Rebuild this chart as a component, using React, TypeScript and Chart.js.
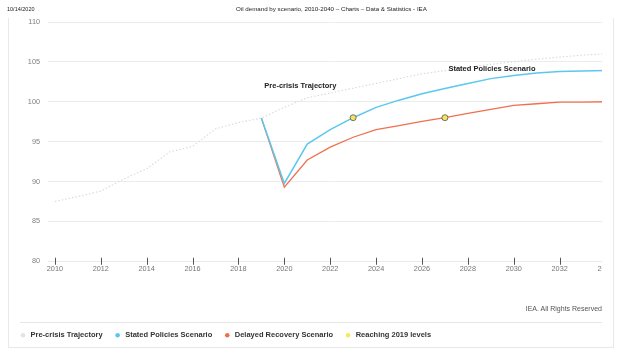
import React, { useEffect, useRef } from 'react';
import { Chart, registerables } from 'chart.js';

Chart.register(...registerables);

const years = [2010, 2011, 2012, 2013, 2014, 2015, 2016, 2017, 2018, 2019, 2020, 2021, 2022, 2023, 2024, 2025, 2026, 2027, 2028, 2029, 2030, 2031, 2032, 2033, 2034];
const preCrisis = [87.5, 88.1, 88.8, 90.3, 91.6, 93.7, 94.4, 96.6, 97.4, 97.95, 99.3, 100.5, 101.1, 101.7, 102.3, 102.9, 103.5, 103.9, 104.3, 104.7, 105.0, 105.35, 105.6, 105.85, 106.0];
const statedPolicies = [null, null, null, null, null, null, null, null, null, 97.95, 89.75, 94.7, 96.5, 98.0, 99.3, 100.2, 101.0, 101.65, 102.3, 102.9, 103.3, 103.6, 103.8, 103.87, 103.92];
const delayedRecovery = [null, null, null, null, null, null, null, null, null, 97.95, 89.3, 92.7, 94.3, 95.55, 96.5, 97.0, 97.55, 98.0, 98.55, 99.05, 99.55, 99.75, 99.95, 99.95, 100.0];
const reachingYears = [2023, 2027];
const reachingValues = [98.0, 98.0];

const seriesNames = ['Pre-crisis Trajectory', 'Stated Policies Scenario', 'Delayed Recovery Scenario', 'Reaching 2019 levels'];
const lineColors = ['#d9d9d9', '#5ac8ee', '#f0704e', '#f2e463'];
const legendColors = ['#e3e3e3', '#5ac8ee', '#f0704e', '#f7e85c'];

const xTickYears = [2010, 2012, 2014, 2016, 2018, 2020, 2022, 2024, 2026, 2028, 2030, 2032, 2034];
const yMin = 80;
const yMax = 110;
const yStep = 5;

const annotations = [
  { text: 'Pre-crisis Trajectory', year: 2020.7, value: 101.95 },
  { text: 'Stated Policies Scenario', year: 2029.05, value: 104.1 },
];

const FONT = "'Liberation Sans', Arial, sans-serif";

const toPoints = (vals: (number | null)[]) =>
  years.map((y, i) => ({ x: y, y: vals[i] })).filter((p) => p.y !== null);

const tickMarks = {
  id: 'tickMarks',
  afterDatasetsDraw(chart: any) {
    const { ctx, chartArea, scales } = chart;
    ctx.save();
    ctx.strokeStyle = '#555';
    ctx.lineWidth = 1;
    xTickYears.forEach((yr) => {
      const px = Math.round(scales.x.getPixelForValue(yr)) + 0.5;
      ctx.beginPath();
      ctx.moveTo(px, chartArea.bottom - 3.5);
      ctx.lineTo(px, chartArea.bottom + 3.5);
      ctx.stroke();
    });
    ctx.restore();
  },
};

const labelsPlugin = {
  id: 'seriesLabels',
  afterDatasetsDraw(chart: any) {
    const { ctx, scales } = chart;
    ctx.save();
    ctx.font = `bold 7.5px ${FONT}`;
    ctx.fillStyle = '#222';
    ctx.textAlign = 'center';
    ctx.textBaseline = 'middle';
    annotations.forEach((a) => {
      ctx.fillText(a.text, scales.x.getPixelForValue(a.year), scales.y.getPixelForValue(a.value));
    });
    ctx.restore();
  },
};

function ChartBox() {
  const ref = useRef<HTMLCanvasElement | null>(null);
  useEffect(() => {
    if (!ref.current) return;
    const chart = new Chart(ref.current, {
      type: 'line',
      data: {
        datasets: [
          {
            label: seriesNames[0],
            data: toPoints(preCrisis),
            borderColor: lineColors[0],
            backgroundColor: legendColors[0],
            borderWidth: 1.1,
            borderDash: [1.5, 2],
            pointRadius: 0,
            tension: 0,
          },
          {
            label: seriesNames[1],
            data: toPoints(statedPolicies),
            borderColor: lineColors[1],
            backgroundColor: legendColors[1],
            borderWidth: 1.5,
            pointRadius: 0,
            tension: 0,
          },
          {
            label: seriesNames[2],
            data: toPoints(delayedRecovery),
            borderColor: lineColors[2],
            backgroundColor: legendColors[2],
            borderWidth: 1.3,
            pointRadius: 0,
            tension: 0,
          },
          {
            label: seriesNames[3],
            data: reachingYears.map((y, i) => ({ x: y, y: reachingValues[i] })),
            showLine: false,
            pointRadius: 3,
            pointBackgroundColor: lineColors[3],
            pointBorderColor: '#555',
            pointBorderWidth: 0.8,
            backgroundColor: legendColors[3],
            borderColor: '#555',
            order: -1,
          },
        ] as any,
      },
      options: {
        responsive: false,
        animation: false,
        devicePixelRatio: 1,
        layout: { padding: { left: 8, top: 22, right: 23, bottom: 14 } },
        scales: {
          x: {
            type: 'linear',
            min: 2009.7,
            max: 2034.5,
            grid: { display: false, drawTicks: false },
            border: { display: false },
            ticks: {
              autoSkip: false,
              maxRotation: 0,
              padding: 3,
              color: '#777',
              font: { size: 7.3, family: FONT },
              callback: (v: any) => String(v),
            },
            afterBuildTicks: (scale: any) => {
              scale.ticks = xTickYears.map((v) => ({ value: v }));
            },
            afterFit: (scale: any) => {
              scale.height = 59;
            },
          },
          y: {
            min: yMin,
            max: yMax,
            grid: { color: '#ececec', lineWidth: 1, drawTicks: false },
            border: { display: false },
            ticks: {
              stepSize: yStep,
              padding: 8,
              color: '#808080',
              font: { size: 7.3, family: FONT },
            },
            afterFit: (scale: any) => {
              scale.width = 40;
            },
          },
        },
        plugins: {
          tooltip: { enabled: false },
          legend: {
            position: 'bottom',
            align: 'start',
            labels: {
              usePointStyle: true,
              boxHeight: 3.2,
              padding: 11.25,
              color: '#333',
              font: { size: 7.5, weight: 'bold', family: FONT },
              sort: (a: any, b: any) => a.datasetIndex - b.datasetIndex,
              generateLabels: (ch: any) =>
                ch.data.datasets.map((ds: any, i: number) => ({
                  text: ds.label,
                  fillStyle: legendColors[i],
                  strokeStyle: legendColors[i],
                  lineWidth: 0,
                  lineDash: [],
                  pointStyle: 'circle',
                  hidden: false,
                  datasetIndex: i,
                  fontColor: '#333',
                })),
            },
          },
        },
      } as any,
      plugins: [tickMarks, labelsPlugin],
    });
    return () => chart.destroy();
  }, []);
  return <canvas ref={ref} width={640} height={363} style={{ display: 'block', width: 640, height: 363 }} />;
}

export default function App() {
  const line = (s: React.CSSProperties): React.CSSProperties => ({ position: 'absolute', background: '#e8e8e8', ...s });
  return (
    <div style={{ position: 'fixed', left: 0, top: 0, width: 625, height: 363, background: '#fff', overflow: 'hidden', fontFamily: FONT }}>
      <div style={{ position: 'absolute', left: 0, top: 0, width: 602, height: 363, overflow: 'hidden' }}>
        <ChartBox />
      </div>
      <div style={{ position: 'absolute', left: 7, top: 5, fontSize: 5.5, lineHeight: '8px', color: '#222' }}>10/14/2020</div>
      <div style={{ position: 'absolute', left: 236, top: 5, fontSize: 6.2, lineHeight: '8px', color: '#222', whiteSpace: 'nowrap' }}>
        Oil demand by scenario, 2010-2040 – Charts – Data &amp; Statistics - IEA
      </div>
      <div style={line({ left: 8, top: 18, width: 1, height: 330 })} />
      <div style={line({ left: 613, top: 18, width: 1, height: 330 })} />
      <div style={line({ left: 8, top: 347, width: 606, height: 1 })} />
      <div style={line({ left: 20, top: 322, width: 582, height: 1, background: '#e6e6e6' })} />
      <div style={{ position: 'absolute', right: 23, top: 304, fontSize: 7, lineHeight: '9px', color: '#555', whiteSpace: 'nowrap' }}>
        IEA. All Rights Reserved
      </div>
    </div>
  );
}
